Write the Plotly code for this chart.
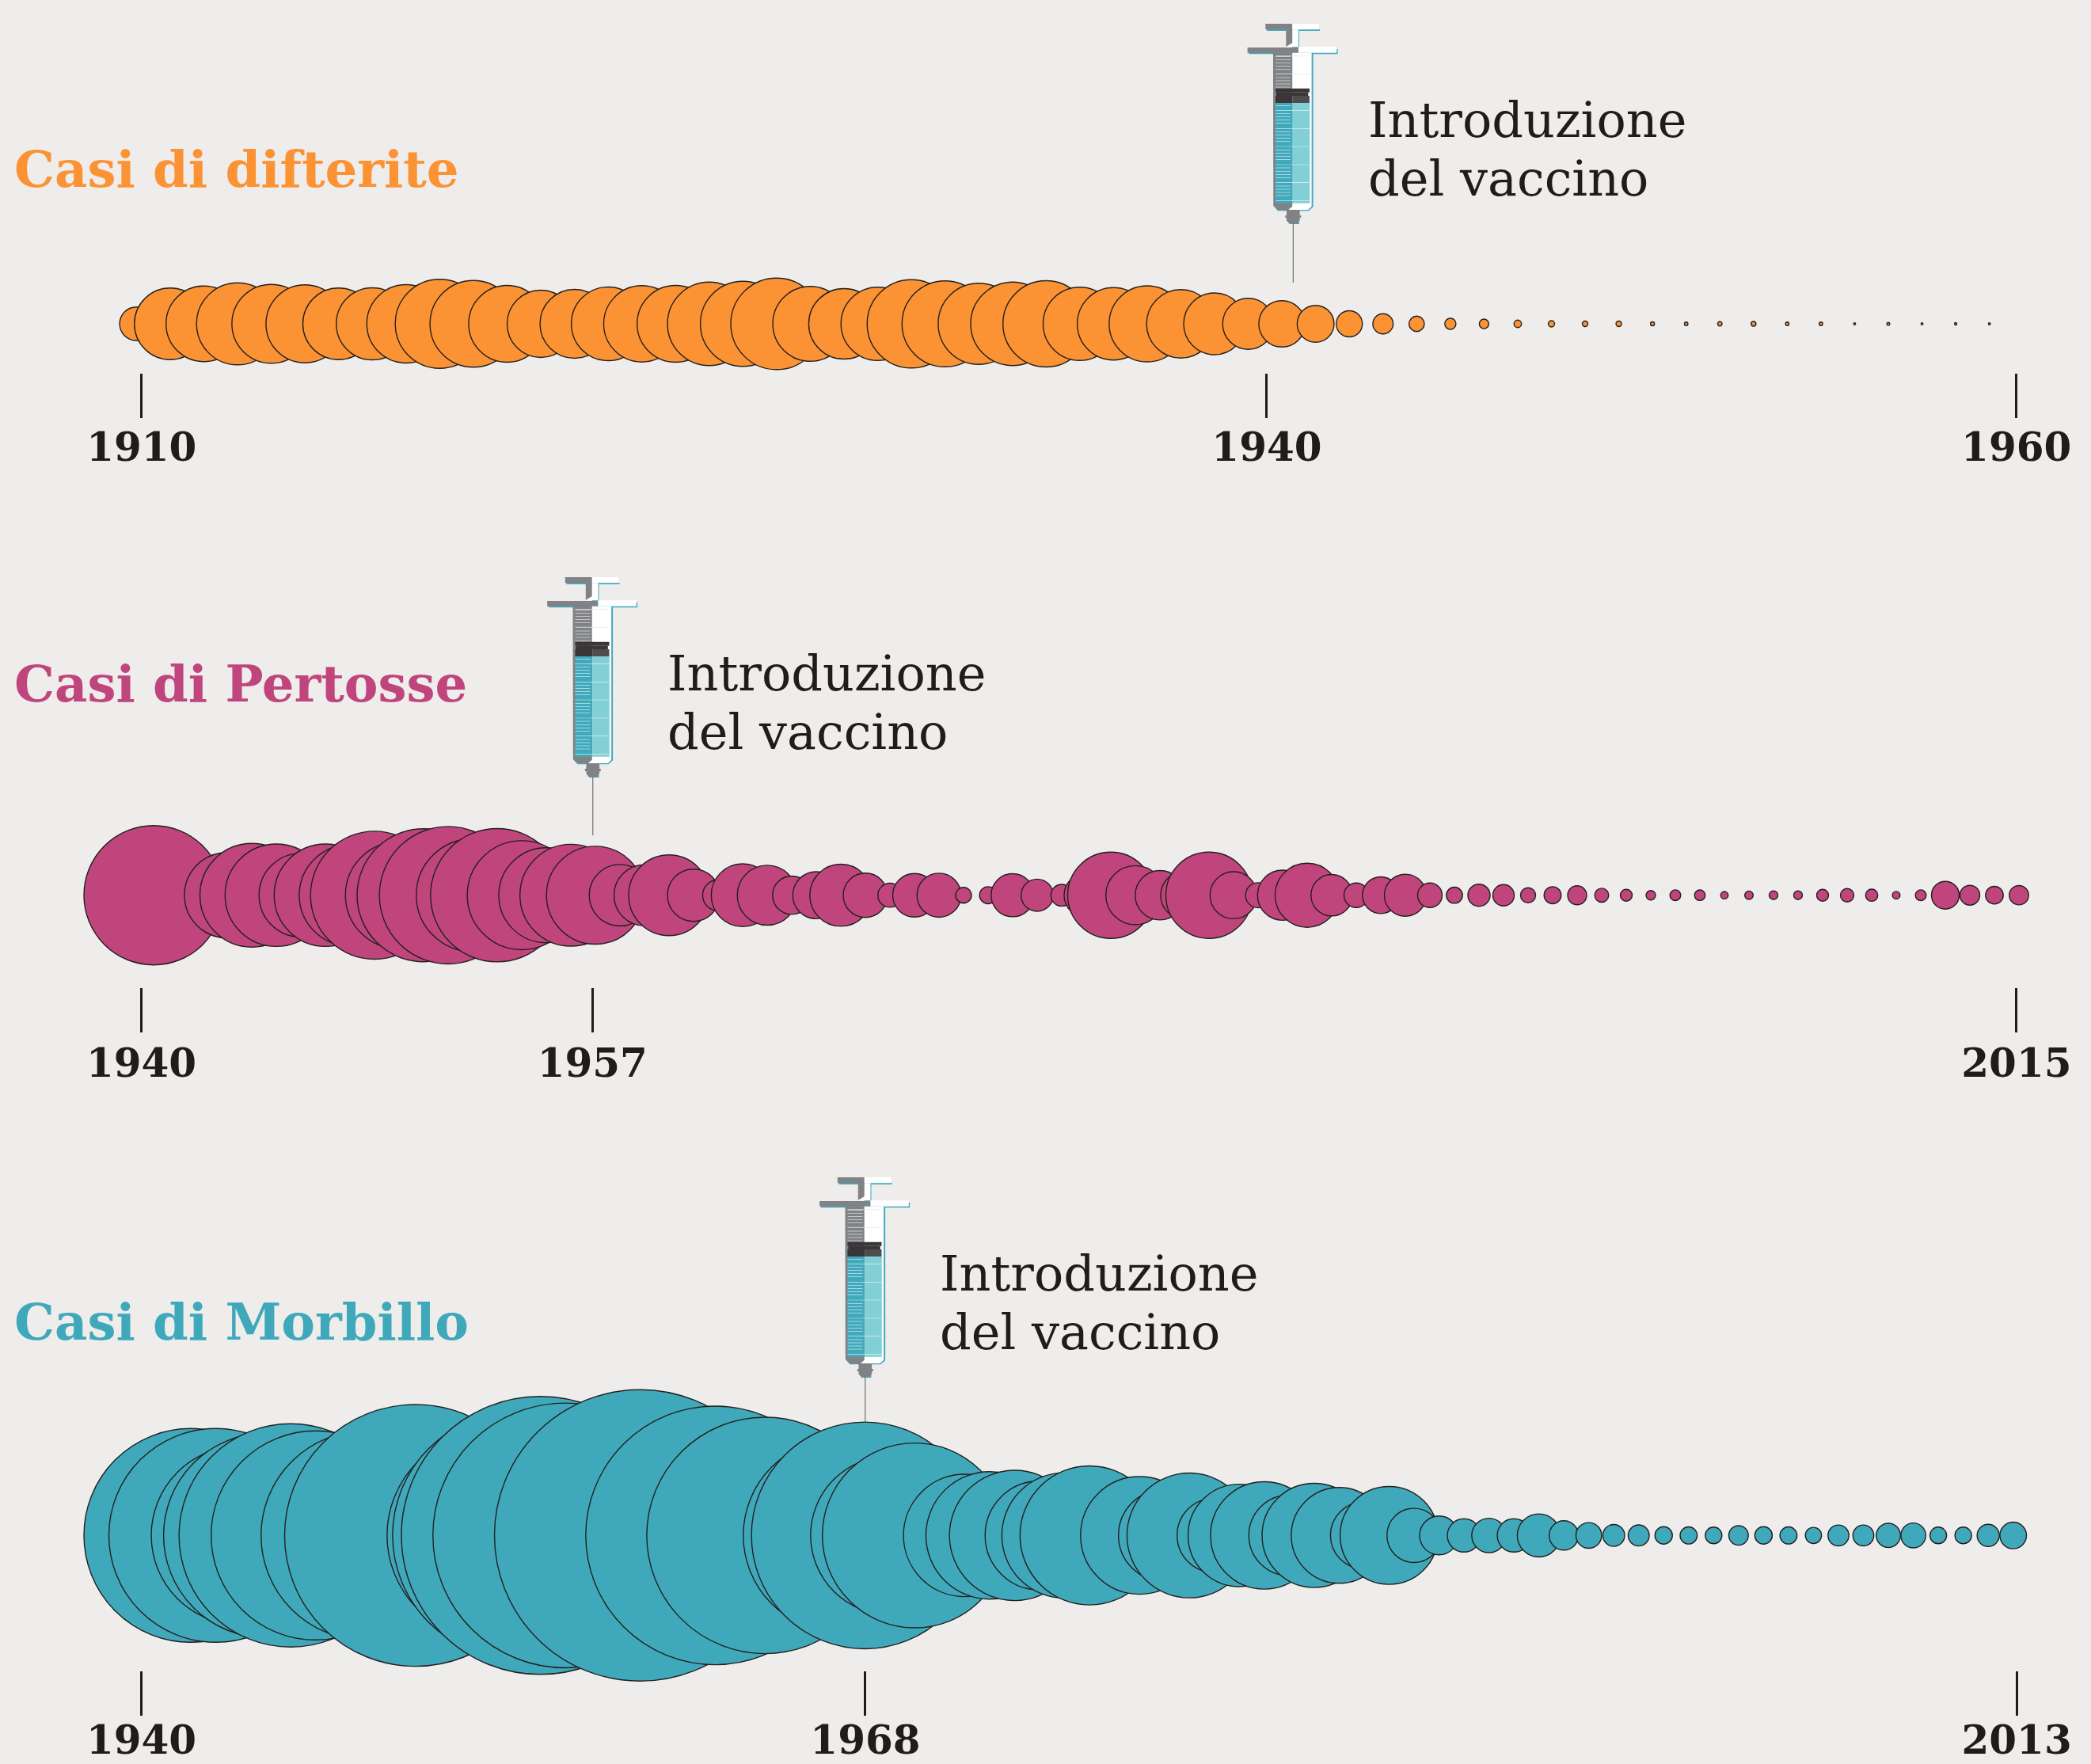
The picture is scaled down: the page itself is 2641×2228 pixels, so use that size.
import plotly.graph_objects as go

# ---------- data ----------
difterite_title = "Casi di difterite"
difterite_ticks = [0.15, 33.55, 55.8]
difterite_ticktext = ["1910", "1940", "1960"]
difterite = [21.3, 45.2, 47.8, 51.8, 49.7, 49.2, 45.2, 45.5, 49.5, 56.2, 54.8, 48.5, 42.5, 43.5,
             46.5, 48.2, 48.5, 52.7, 53.7, 57.8, 47.3, 44.5, 46.3, 55.8, 54.3, 51.2, 52.7, 54.5,
             46.3, 45.7, 48.0, 43.3, 39.0, 32.3, 29.2, 23.3, 16.5, 12.8, 9.7, 7.0, 6.0, 4.7, 4.0,
             3.5, 3.5, 2.5, 2.2, 2.8, 3.0, 2.2, 2.2, 1.2, 1.8, 1.2, 1.5, 1.3]

pertosse_title = "Casi di Pertosse"
pertosse_ticks = [-0.5, 17.88, 75.9]
pertosse_ticktext = ["1940", "1957", "2015"]
pertosse = [88.0, None, None, 54.0, 65.5, 64.7, 52.8, 64.7, 64.0, 80.8, 67.7, 84.0, 86.8, 71.2,
            84.2, 68.8, 60.0, 64.3, 61.8, 38.8, 38.5, 51.0, 33.0, 19.5, 39.7, 37.8, 24.2, 29.7,
            39.2, 28.0, 15.2, 27.5, 27.8, 10.0, 10.8, 27.2, 20.3, 13.7, 28.0, 54.5, 37.3, 31.2,
            30.0, 54.5, 29.7, 15.8, 31.7, 40.5, 26.2, 15.5, 23.2, 26.5, 15.5, 10.2, 14.0, 13.5,
            9.5, 10.8, 12.0, 8.8, 7.5, 6.0, 6.8, 6.7, 4.7, 5.3, 5.5, 5.5, 7.5, 8.5, 7.7, 4.8,
            6.8, 17.5, 12.5, 11.2, 12.2]

morbillo_title = "Casi di Morbillo"
morbillo_ticks = [-1.98, 27.02, 73.14]
morbillo_ticktext = ["1940", "1968", "2013"]
morbillo = [135.0, 135.0, 113.0, 129.0, 141.0, 132.0, None, 132.0, None, 165.3, None, None, 130.5,
            155.0, 175.5, 167.2, None, None, 184.0, None, None, 163.3, None, 149.3, None, None,
            122.0, 143.2, 100.0, 116.7, None, 77.3, 80.5, 82.3, 68.8, 79.2, 87.8, None, 74.3,
            58.0, 78.8, 47.0, 64.7, 67.8, 51.0, 65.8, 60.5, 42.5, 61.8, 34.2, 24.5, 21.0, 21.7,
            21.0, 27.2, 18.5, 16.2, 13.8, 13.3, 11.0, 10.8, 10.5, 12.3, 11.0, 10.8, 10.2, 13.2,
            13.2, 15.3, 15.7, 10.5, 10.5, 14.0, 16.8]

vaccine_lines = ["Introduzione", "del vaccino"]

# ---------- layout constants ----------
W, H = 2641, 2228
BG = "#eeedeb"
INK = "#1f1c1a"
SERIF = "DejaVu Serif"

rows = [
    dict(title=difterite_title, values=difterite, ticks=difterite_ticks, ticktext=difterite_ticktext,
         color="#fb9334", x0=172.4, dx=42.55, cy=409.0, axis_y=471.0, title_y=214, needle_x=1633.3,
         syringe_dy=0, needle_end=356.7, label_x=1725.5, standoff=-6),
    dict(title=pertosse_title, values=pertosse, ticks=pertosse_ticks, ticktext=pertosse_ticktext,
         color="#c0457d", x0=194.0, dx=31.0, cy=1130.7, axis_y=1247.0, title_y=863, needle_x=748.8,
         syringe_dy=699, needle_end=1055.0, label_x=840.5, standoff=-4),
    dict(title=morbillo_title, values=morbillo, ticks=morbillo_ticks, ticktext=morbillo_ticktext,
         color="#3fa9bb", x0=241.0, dx=31.53, cy=1939.3, axis_y=2110.0, title_y=1670, needle_x=1092.8,
         syringe_dy=1457, needle_end=1796.0, label_x=1184.5, standoff=-12),
]


def px(x):
    return x / W


def py(y):
    return 1 - y / H


# ---------- syringe, a decoration drawn from its own local drawing units ----------
GREY = "#808285"
TEAL = "#41a9bc"
LIGHT = "#82d0d5"


def syringe(nx, dy, needle_end):
    X = lambda z: px(nx + (z - 280) / 3)
    Y = lambda z: py(30 + dy + (z - 30) / 3)
    out = []

    def rect(a, b, c, d, col, op=1.0):
        out.append(dict(type="rect", xref="paper", yref="paper", x0=X(a), x1=X(c), y0=Y(b), y1=Y(d),
                        fillcolor=col, line_width=0, opacity=op, layer="above"))

    def poly(points, col):
        path = "M " + " L ".join(f"{X(a):.6f},{Y(b):.6f}" for a, b in points) + " Z"
        out.append(dict(type="path", xref="paper", yref="paper", path=path, fillcolor=col,
                        line_width=0, layer="above"))

    # teal offset shadow
    rect(180, 50, 381, 57, TEAL)
    rect(277, 52, 303, 120, TEAL)
    rect(112, 125, 449, 145, TEAL)
    poly([(277, 143), (356, 143), (356, 724), (339, 739), (222, 739), (205, 720), (277, 720)], TEAL)
    rect(265, 780, 303, 789, TEAL)
    # plunger
    rect(175, 30, 277, 52, GREY)
    rect(277, 30, 378, 52, "#ffffff")
    poly([(253, 52), (277, 52), (277, 103), (253, 117)], GREY)
    poly([(277, 52), (300, 52), (300, 118), (253, 118), (277, 103)], "#ffffff")
    rect(107, 120, 300, 140, GREY)
    rect(300, 118, 445, 140, "#ffffff")
    # barrel
    poly([(204, 140), (277, 140), (277, 735), (222, 735), (205, 718)], GREY)
    poly([(277, 140), (350, 140), (350, 722), (337, 735), (262, 735), (277, 722)], "#ffffff")
    # liquid
    rect(213, 330, 278, 710, TEAL)
    rect(278, 330, 343, 710, LIGHT)
    # plunger head
    rect(213, 275, 342, 290, "#3a3637")
    rect(216, 290, 337, 303, "#3a3637")
    rect(213, 303, 278, 330, "#3a3637")
    rect(278, 303, 342, 330, "#4e4c4d")
    # graduations
    for z in (155, 166, 178, 190, 202, 234, 246, 258, 270, 340, 371, 383, 395, 407, 439, 451, 463,
              475, 508, 520, 532, 544, 576, 589, 601, 613, 645, 657, 669, 681):
        rect(213, z - 1, 270, z + 1, "#ffffff", 0.8)
    for z in (152, 220):
        rect(213, z - 1.5, 342, z + 1.5, "#e8e8e8", 0.8)
    for z in (358, 427, 495, 564, 632, 700):
        rect(213, z - 1, 342, z + 1, "#ffffff", 0.75)
    # nozzle and needle
    poly([(255, 735), (305, 735), (305, 775), (295, 787), (265, 787), (255, 775)], GREY)
    rect(250, 756, 310, 765, GREY)
    yend = (needle_end - dy - 30) * 3 + 30
    rect(278.5, 787, 281.5, yend, "#555658")
    return out


# ---------- figure ----------
fig = go.Figure()
layout = dict(
    width=W, height=H, autosize=False,
    margin=dict(l=0, r=0, t=0, b=0, pad=0, autoexpand=False),
    paper_bgcolor=BG, plot_bgcolor="rgba(0,0,0,0)",
    showlegend=False, annotations=[], shapes=[],
)

for i, r in enumerate(rows, start=1):
    suffix = "" if i == 1 else str(i)
    pts = [(k, v) for k, v in enumerate(r["values"]) if v is not None]
    fig.add_trace(go.Scatter(
        x=[p[0] for p in pts], y=[0] * len(pts), mode="markers",
        xaxis="x" + suffix, yaxis="y" + suffix, cliponaxis=False, hoverinfo="skip",
        marker=dict(size=[p[1] for p in pts], sizemode="diameter", sizeref=0.5, color=r["color"],
                    line=dict(color="#23201f", width=1.4), opacity=1),
    ))
    half = r["axis_y"] - r["cy"]
    layout["xaxis" + suffix] = dict(
        domain=[0, 1], anchor="y" + suffix, automargin=False,
        range=[(0 - r["x0"]) / r["dx"], (W - r["x0"]) / r["dx"]],
        tickmode="array", tickvals=r["ticks"], ticktext=r["ticktext"],
        ticks="outside", ticklen=56, tickwidth=3, tickcolor=INK,
        tickfont=dict(family=SERIF, size=50, color=INK, weight="bold"),
        ticklabelstandoff=r["standoff"], showgrid=False, zeroline=False, showline=False,
    )
    layout["yaxis" + suffix] = dict(
        domain=[py(r["cy"] + half), py(r["cy"] - half)], anchor="x" + suffix, automargin=False,
        range=[-1, 1], visible=False,
    )
    layout["annotations"].append(dict(
        text=r["title"], xref="paper", yref="paper", x=px(15.5), y=py(r["title_y"]),
        xanchor="left", yanchor="middle", showarrow=False, align="left",
        font=dict(family=SERIF, size=64, color=r["color"], weight="bold"),
    ))
    for line, line_y in zip(vaccine_lines, (151.5, 225.5)):
        layout["annotations"].append(dict(
            text=line, xref="paper", yref="paper", x=px(r["label_x"]), y=py(line_y + r["syringe_dy"]),
            xanchor="left", yanchor="middle", showarrow=False, align="left",
            font=dict(family=SERIF, size=62, color=INK),
        ))
    layout["shapes"].extend(syringe(r["needle_x"], r["syringe_dy"], r["needle_end"]))

fig.update_layout(**layout)
fig.write_html(
    "out.html",
    config=dict(displayModeBar=False),
    post_script="document.body.style.margin='0';document.body.style.background='#eeedeb';"
                "document.documentElement.style.overflow='hidden';",
)
